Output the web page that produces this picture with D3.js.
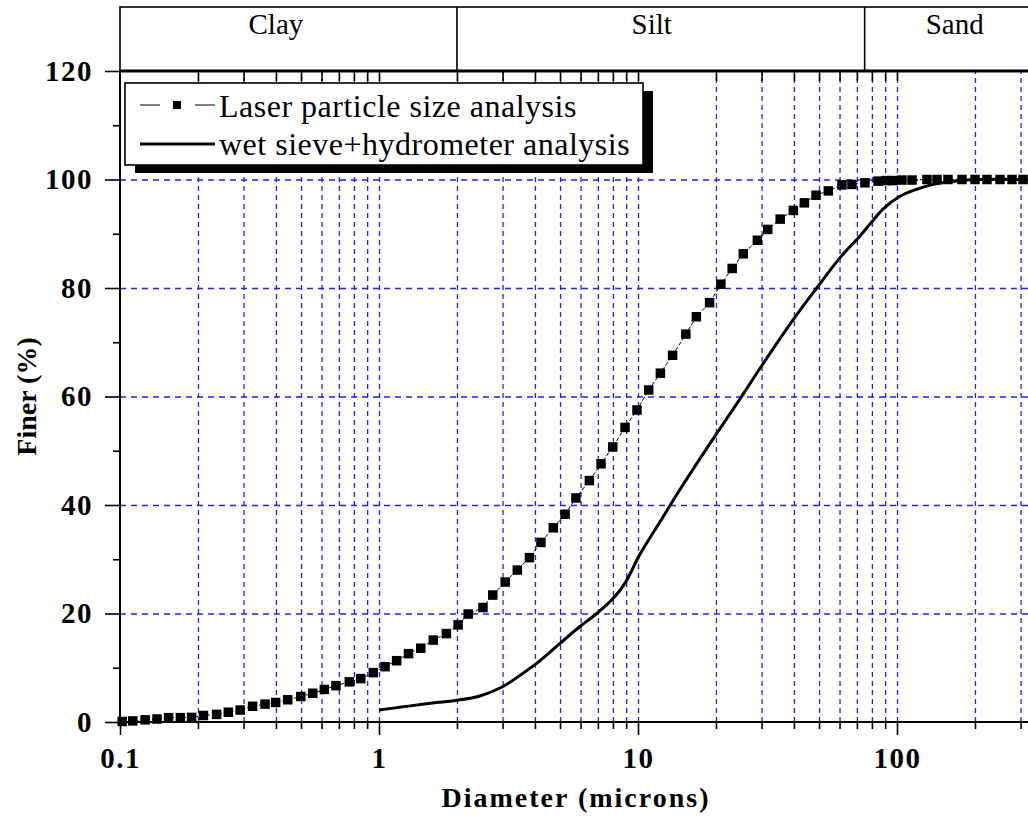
<!DOCTYPE html>
<html>
<head>
<meta charset="utf-8">
<script src="https://cdn.jsdelivr.net/npm/d3@7"></script>
<style>
  html, body { margin: 0; padding: 0; background: #fff; }
  svg { display: block; }
</style>
</head>
<body>
<div id="chart"></div>
<script>
/* ============================================================
   Grain size distribution — laser vs. wet sieve + hydrometer
   ============================================================ */

// ---- data -------------------------------------------------
const laserDiameter = [0.102, 0.112, 0.125, 0.139, 0.154, 0.171, 0.189, 0.210, 0.236, 0.262,
  0.291, 0.325, 0.363, 0.399, 0.444, 0.499, 0.555, 0.615, 0.682, 0.768,
  0.850, 0.951, 1.055, 1.17, 1.30, 1.45, 1.62, 1.82, 2.02, 2.21,
  2.52, 2.75, 3.07, 3.42, 3.81, 4.22, 4.71, 5.23, 5.76, 6.49,
  7.20, 7.99, 8.91, 9.91, 11.0, 12.2, 13.6, 15.3, 16.8, 18.9,
  20.9, 23.1, 25.5, 28.9, 31.7, 35.4, 39.8, 43.9, 48.7, 54.3,
  61.3, 67.0, 75.2, 84.5, 90.7, 96.5, 104.5, 114.3, 130.5, 142.7,
  157.4, 178.2, 200.1, 222.6, 249.9, 278.0, 306.6, 341, 380];
const laserFiner = [0.1, 0.2, 0.4, 0.55, 0.8, 0.8, 0.85, 1.2, 1.4, 1.8,
  2.2, 2.9, 3.3, 3.6, 4.1, 4.7, 5.3, 6.0, 6.7, 7.4,
  8.0, 9.1, 10.2, 11.3, 12.6, 13.6, 15.1, 16.3, 17.9, 19.9,
  21.1, 23.4, 25.8, 28.0, 30.3, 33.1, 35.8, 38.3, 41.3, 44.5,
  47.6, 50.7, 54.3, 57.5, 61.2, 64.3, 67.6, 71.5, 74.7, 77.3,
  80.7, 83.6, 86.3, 88.8, 90.8, 92.7, 94.3, 95.7, 97.1, 97.9,
  99.0, 99.1, 99.4, 99.7, 99.8, 99.8, 99.9, 99.9, 100, 100,
  100, 100, 100, 100, 100, 100, 100, 100, 100];

const wetDiameter = [1.0, 1.24, 1.55, 2.0, 2.45, 3.0, 3.6, 4.06, 5.0, 5.97,
  6.93, 8.03, 8.91, 10.2, 12.2, 14.5, 18.4, 24.8, 29.6, 39.8,
  49.0, 60.3, 72.0, 80.0, 88.5, 102.7, 119.2, 138.1, 160.2, 200,
  300, 500, 1000];
const wetFiner = [2.2, 2.8, 3.4, 4.0, 4.8, 6.5, 9.0, 10.8, 14.5, 17.6,
  20.0, 22.8, 25.6, 31.0, 37.0, 42.8, 50.4, 59.6, 65.2, 74.2,
  80.0, 85.6, 89.6, 92.2, 94.6, 96.9, 98.2, 99.1, 99.6, 100,
  100, 100, 100];

const seriesNames = ['Laser particle size analysis', 'wet sieve+hydrometer analysis'];

const xMajorTicks = [0.1, 1, 10, 100];
const xTickLabels = ['0.1', '1', '10', '100'];
const yMajorTicks = [0, 20, 40, 60, 80, 100, 120];
const yMinorTicks = [10, 30, 50, 70, 90, 110];
const yGridTicks = [20, 40, 60, 80, 100];

const bandNames = ['Clay', 'Silt', 'Sand'];
const bandBounds = [0.1, 2, 75, 1000];
const bandLabelAt = [0.4, 11.3, 167];

// ---- layout -----------------------------------------------
const W = 1028, H = 816;
const FONT = "'Liberation Serif', 'Times New Roman', serif";
const GRID = '#1f1fff';

const x = d3.scaleLog().domain([0.1, 1000]).range([120, 120 + 4 * 259]);
const y = d3.scaleLinear().domain([0, 120]).range([722, 71]);

// log positions 1..9 in each decade for grid / ticks
const xMinorTicks = [];
const xAllTicks = [];
xMajorTicks.forEach(dec => {
  for (let k = 2; k <= 9; k++) xMinorTicks.push(dec * k);
  for (let k = 1; k <= 9; k++) xAllTicks.push(dec * k);
});
xAllTicks.push(1000);

const svg = d3.select('#chart')
  .append('svg')
  .attr('width', W)
  .attr('height', H)
  .style('overflow', 'hidden');

function styleAxis(sel) {
  sel.select('.domain').remove();
  sel.selectAll('line').attr('stroke', '#000').attr('stroke-width', 1.6);
  sel.selectAll('text')
    .attr('fill', '#000')
    .style('font-family', FONT)
    .style('font-weight', 'bold')
    .style('font-size', '29px')
    .style('letter-spacing', '1.5px');
}

// ---- grid -------------------------------------------------
svg.append('g')
  .attr('transform', `translate(0,${y(0)})`)
  .call(d3.axisBottom(x).tickValues(xAllTicks.filter(d => d > 0.1))
    .tickSize(-(y(0) - y(120))).tickFormat(''))
  .call(g => g.select('.domain').remove())
  .selectAll('line')
  .attr('stroke', GRID)
  .attr('stroke-width', 1.3)
  .attr('stroke-dasharray', '5,4');

svg.append('g')
  .attr('transform', `translate(${x(0.1)},0)`)
  .call(d3.axisLeft(y).tickValues(yGridTicks).tickSize(-(W - x(0.1))).tickFormat(''))
  .call(g => g.select('.domain').remove())
  .selectAll('line')
  .attr('stroke', GRID)
  .attr('stroke-width', 1.3)
  .attr('stroke-dasharray', '6,5');

// ---- axes -------------------------------------------------
const xMajor = svg.append('g')
  .attr('transform', `translate(0,${y(0)})`)
  .call(d3.axisBottom(x).tickValues(xMajorTicks).tickSize(13).tickPadding(12)
    .tickFormat((d, i) => xTickLabels[i]));
styleAxis(xMajor);

const xMinor = svg.append('g')
  .attr('transform', `translate(0,${y(0)})`)
  .call(d3.axisBottom(x).tickValues(xMinorTicks).tickSize(7).tickFormat(''));
styleAxis(xMinor);

// top axis: small inward ticks
const xTop = svg.append('g')
  .attr('transform', `translate(0,${y(120)})`)
  .call(d3.axisBottom(x).tickValues(xAllTicks.filter(d => d > 0.1 && d < 200)).tickSize(10).tickFormat(''));
styleAxis(xTop);

const yMajor = svg.append('g')
  .attr('transform', `translate(${x(0.1)},0)`)
  .call(d3.axisLeft(y).tickValues(yMajorTicks).tickSize(15).tickPadding(12));
styleAxis(yMajor);

const yMinor = svg.append('g')
  .attr('transform', `translate(${x(0.1)},0)`)
  .call(d3.axisLeft(y).tickValues(yMinorTicks).tickSize(7).tickFormat(''));
styleAxis(yMinor);

// axis lines
svg.append('line')
  .attr('x1', x(0.1)).attr('x2', x(0.1))
  .attr('y1', y(120)).attr('y2', y(0))
  .attr('stroke', '#000').attr('stroke-width', 2);
svg.append('line')
  .attr('x1', x(0.1)).attr('x2', W)
  .attr('y1', y(0)).attr('y2', y(0))
  .attr('stroke', '#000').attr('stroke-width', 2);

// ---- size class band (Clay / Silt / Sand) -----------------
const band = svg.append('g');
band.append('rect')
  .attr('x', x(0.1)).attr('y', 7)
  .attr('width', x(1000) - x(0.1)).attr('height', y(120) - 7)
  .attr('fill', 'none').attr('stroke', '#000').attr('stroke-width', 1.6);
band.selectAll('line.div')
  .data(bandBounds.slice(1, -1))
  .join('line')
  .attr('class', 'div')
  .attr('x1', d => x(d)).attr('x2', d => x(d))
  .attr('y1', 7).attr('y2', y(120))
  .attr('stroke', '#000').attr('stroke-width', 1.6);
band.selectAll('text')
  .data(bandNames)
  .join('text')
  .attr('x', (d, i) => x(bandLabelAt[i]))
  .attr('y', 34)
  .attr('text-anchor', 'middle')
  .style('font-family', FONT)
  .style('font-size', '29px')
  .text(d => d);

// thick top frame line
svg.append('line')
  .attr('x1', x(0.1) - 1).attr('x2', W)
  .attr('y1', y(120)).attr('y2', y(120))
  .attr('stroke', '#000').attr('stroke-width', 3);

// ---- series -----------------------------------------------
const laser = laserDiameter.map((d, i) => ({ d, v: laserFiner[i] }));
const wet = wetDiameter.map((d, i) => ({ d, v: wetFiner[i] }));

svg.append('path')
  .datum(laser)
  .attr('d', d3.line().x(p => x(p.d)).y(p => y(p.v)))
  .attr('fill', 'none')
  .attr('stroke', '#000')
  .attr('stroke-width', 1)
  .attr('stroke-dasharray', '4,2');

const SQ = 9.5;
svg.append('g')
  .selectAll('rect')
  .data(laser)
  .join('rect')
  .attr('x', p => x(p.d) - SQ / 2)
  .attr('y', p => y(p.v) - SQ / 2)
  .attr('width', SQ).attr('height', SQ)
  .attr('fill', '#000');

svg.append('path')
  .datum(wet)
  .attr('d', d3.line().curve(d3.curveCatmullRom.alpha(0.5)).x(p => x(p.d)).y(p => y(p.v)))
  .attr('fill', 'none')
  .attr('stroke', '#000')
  .attr('stroke-width', 3);

// ---- legend -----------------------------------------------
const lg = svg.append('g');
lg.append('rect')
  .attr('x', 135).attr('y', 91).attr('width', 518).attr('height', 82)
  .attr('fill', '#000');
lg.append('rect')
  .attr('x', 125).attr('y', 83).attr('width', 518).attr('height', 82)
  .attr('fill', '#fff').attr('stroke', '#000').attr('stroke-width', 1.6);

lg.append('line')
  .attr('x1', 140).attr('x2', 215).attr('y1', 105).attr('y2', 105)
  .attr('stroke', '#000').attr('stroke-width', 1.2)
  .attr('stroke-dasharray', '20,35,20');
lg.append('rect')
  .attr('x', 173).attr('y', 101).attr('width', 8).attr('height', 8)
  .attr('fill', '#000');
lg.append('line')
  .attr('x1', 140).attr('x2', 215).attr('y1', 144).attr('y2', 144)
  .attr('stroke', '#000').attr('stroke-width', 3);

lg.selectAll('text')
  .data(seriesNames)
  .join('text')
  .attr('x', 219)
  .attr('y', (d, i) => 117 + i * 38)
  .style('font-family', FONT)
  .style('font-size', '32px')
  .style('letter-spacing', '0.5px')
  .text(d => d);

// ---- axis titles ------------------------------------------
svg.append('text')
  .attr('x', (x(0.1) + W) / 2 + 2)
  .attr('y', 807)
  .attr('text-anchor', 'middle')
  .style('font-family', FONT)
  .style('font-weight', 'bold')
  .style('font-size', '28px')
  .style('letter-spacing', '2px')
  .text('Diameter (microns)');

svg.append('text')
  .attr('transform', `translate(36,${(y(0) + y(120)) / 2}) rotate(-90)`)
  .attr('text-anchor', 'middle')
  .style('font-family', FONT)
  .style('font-weight', 'bold')
  .style('font-size', '28px')
  .text('Finer (%)');
</script>
</body>
</html>
